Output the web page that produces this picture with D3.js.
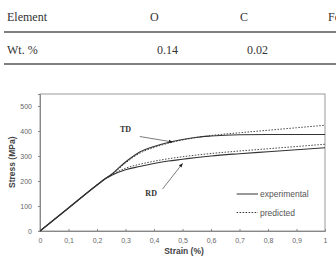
<!DOCTYPE html>
<html>
<head>
<meta charset="utf-8">
<script src="https://cdn.jsdelivr.net/npm/d3@7"></script>
<style>
  body { margin: 0; background: #fff; }
  svg { display: block; }
</style>
</head>
<body>
<div id="chart"></div>
<script>
// table values
var tableCols = ["Element", "O", "C", "Fe"];
var tableRow = ["Wt.  %", "0.14", "0.02", ""];

// strain (%) sample points
var strain = [0, 0.1, 0.2, 0.23, 0.25, 0.3, 0.35, 0.4, 0.45, 0.5, 0.55, 0.6, 0.7, 0.8, 0.9, 1.0];
// stress (MPa)
var tdExp  = [0, 92, 184, 210, 226, 276, 316, 338, 354, 366, 375, 380, 385, 386, 386, 386];
var tdPred = [0, 92, 184, 210, 224, 272, 311, 334, 351, 364, 374, 382, 393, 403, 413, 423];
var rdExp  = [0, 92, 184, 210, 222, 245, 258, 270, 280, 287, 294, 300, 309, 317, 325, 333];
var rdPred = [0, 92, 184, 210, 224, 251, 267, 279, 289, 297, 304, 310, 320, 329, 338, 347];

var xTicks = [0, 0.1, 0.2, 0.3, 0.4, 0.5, 0.6, 0.7, 0.8, 0.9, 1];
var yTicks = [0, 100, 200, 300, 400, 500];

var W = 336, H = 259;
var svg = d3.select("#chart").append("svg")
    .attr("width", W).attr("height", H);

// ---- table ----
var colX = d3.scaleOrdinal().domain([0, 1, 2, 3]).range([7, 150, 240, 328]);
var rowX = d3.scaleOrdinal().domain([0, 1, 2, 3]).range([7, 157, 247, 328]);
var tbl = svg.append("g")
    .style("font-family", "'Liberation Serif', 'Times New Roman', serif")
    .style("font-size", "12px")
    .attr("fill", "#333");

tbl.selectAll("text.hd").data(tableCols).join("text")
    .attr("class", "hd")
    .attr("x", (d, i) => colX(i))
    .attr("y", 21)
    .text(d => d);
tbl.selectAll("text.rw").data(tableRow).join("text")
    .attr("class", "rw")
    .attr("x", (d, i) => rowX(i))
    .attr("y", 54)
    .text(d => d);
[32, 64].forEach(function (yy) {
    tbl.append("line")
        .attr("x1", 4).attr("x2", W)
        .attr("y1", yy).attr("y2", yy)
        .attr("stroke", "#555").attr("stroke-width", 1.5);
});

// ---- chart ----
var x = d3.scaleLinear().domain([0, 1]).range([40, 325]);
var y = d3.scaleLinear().domain([0, 548]).range([231, 94]);

var g = svg.append("g")
    .style("font-family", "'Liberation Sans', Arial, sans-serif");

// plot border
g.append("rect")
    .attr("x", x(0)).attr("y", y(548))
    .attr("width", x(1) - x(0)).attr("height", y(0) - y(548))
    .attr("fill", "none").attr("stroke", "#999").attr("stroke-width", 1);

// x axis
var xAxis = g.append("g")
    .attr("transform", "translate(0," + y(0) + ")")
    .call(d3.axisBottom(x).tickValues(xTicks).tickSize(-2).tickPadding(7)
        .tickFormat(d => d === 0 || d === 1 ? String(d) : d3.format(".1f")(d).replace(".", ",")));
xAxis.select(".domain").attr("stroke", "#888");
xAxis.selectAll("line").attr("stroke", "#888");
xAxis.selectAll("text").attr("fill", "#666").style("font-size", "7px");

// y axis
var yAxis = g.append("g")
    .attr("transform", "translate(" + x(0) + ",0)")
    .call(d3.axisLeft(y).tickValues(yTicks).tickSize(2).tickPadding(6));
yAxis.select(".domain").attr("stroke", "#888");
yAxis.selectAll("line").attr("stroke", "#888");
yAxis.selectAll("text").attr("fill", "#666").style("font-size", "7px");

// axis titles
g.append("text")
    .attr("x", 184).attr("y", 254)
    .attr("text-anchor", "middle")
    .style("font-size", "8.5px").style("font-weight", "bold")
    .attr("fill", "#444")
    .text("Strain (%)");
g.append("text")
    .attr("transform", "translate(15," + y(275) + ") rotate(-90)")
    .attr("text-anchor", "middle")
    .style("font-size", "8.5px").style("font-weight", "bold")
    .attr("fill", "#444")
    .text("Stress (MPa)");

// curves
var line = d3.line()
    .x((d, i) => x(strain[i]))
    .y(d => y(d))
    .curve(d3.curveMonotoneX);

var series = [
    { v: tdExp, dash: null },
    { v: rdExp, dash: null },
    { v: tdPred, dash: "1.5,1.5" },
    { v: rdPred, dash: "1.5,1.5" }
];
g.selectAll("path.curve").data(series).join("path")
    .attr("class", "curve")
    .attr("d", d => line(d.v))
    .attr("fill", "none")
    .attr("stroke", "#333")
    .attr("stroke-width", d => d.dash ? 0.9 : 1.2)
    .attr("stroke-dasharray", d => d.dash);

// annotations
svg.append("defs").append("marker")
    .attr("id", "arr")
    .attr("viewBox", "0 0 10 10")
    .attr("refX", 9).attr("refY", 5)
    .attr("markerWidth", 6).attr("markerHeight", 6)
    .attr("orient", "auto")
    .append("path").attr("d", "M0,1 L10,5 L0,9 Z").attr("fill", "#222");

var notes = [
    { label: "TD", lx: 0.3, ly: 395, x1: 0.35, y1: 378, x2: 0.465, y2: 356 },
    { label: "RD", lx: 0.39, ly: 140, x1: 0.43, y1: 168, x2: 0.5, y2: 270 }
];
notes.forEach(function (n) {
    g.append("text")
        .attr("x", x(n.lx)).attr("y", y(n.ly))
        .attr("text-anchor", "middle")
        .style("font-family", "'Liberation Serif', serif")
        .style("font-size", "8px").style("font-weight", "bold")
        .attr("fill", "#333")
        .text(n.label);
    g.append("line")
        .attr("x1", x(n.x1)).attr("y1", y(n.y1))
        .attr("x2", x(n.x2)).attr("y2", y(n.y2))
        .attr("stroke", "#444").attr("stroke-width", 0.7)
        .attr("marker-end", "url(#arr)");
});

// legend
var legend = [
    { name: "experimental", dash: null, yv: 148 },
    { name: "predicted", dash: "1.5,1.5", yv: 74 }
];
legend.forEach(function (l) {
    g.append("line")
        .attr("x1", x(0.69)).attr("x2", x(0.765))
        .attr("y1", y(l.yv)).attr("y2", y(l.yv))
        .attr("stroke", "#333").attr("stroke-width", 1)
        .attr("stroke-dasharray", l.dash);
    g.append("text")
        .attr("x", x(0.772)).attr("y", y(l.yv) + 3)
        .style("font-size", "8.5px")
        .attr("fill", "#555")
        .text(l.name);
});
</script>
</body>
</html>
